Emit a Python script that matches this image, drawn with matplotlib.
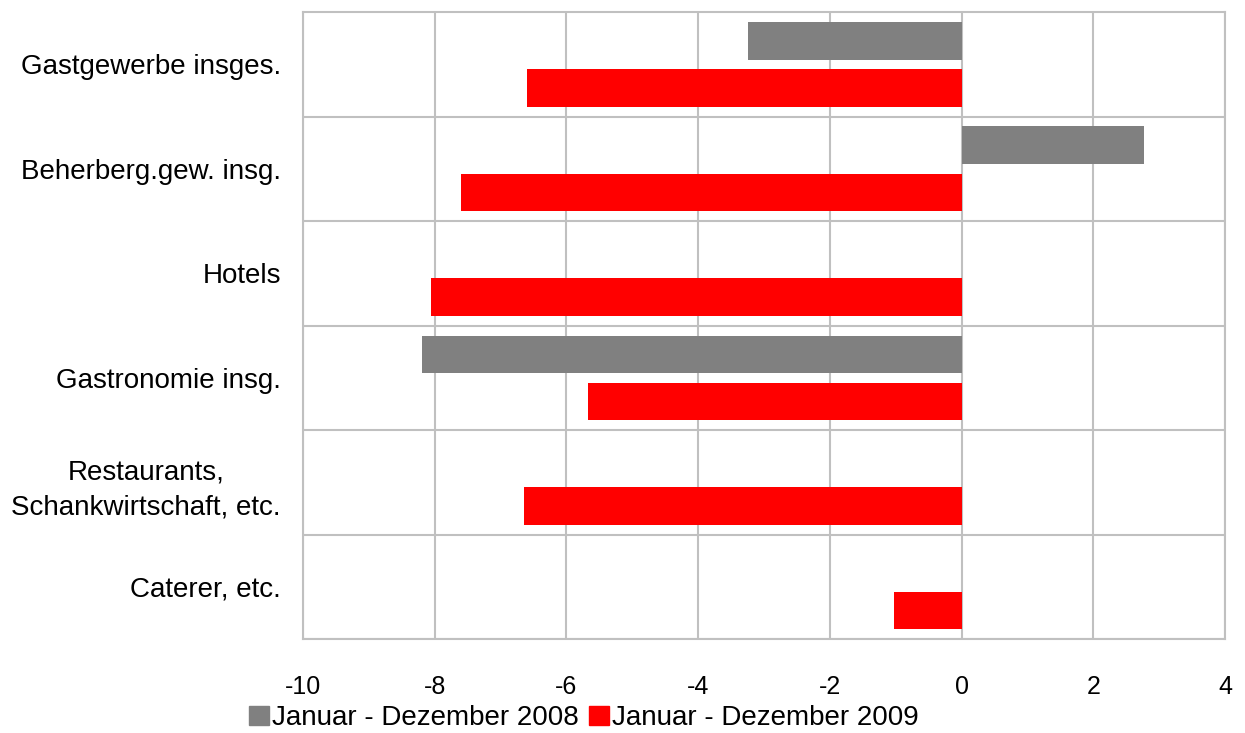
import numpy as np
import matplotlib
matplotlib.use("Agg")
import matplotlib.pyplot as plt
from matplotlib.patches import Patch

categories = ["Gastgewerbe insges.", "Beherberg.gew. insg.", "Hotels",
              "Gastronomie insg.", "Restaurants,\nSchankwirtschaft, etc.", "Caterer, etc."]
values_2008 = [-3.25, 2.77, np.nan, -8.2, np.nan, np.nan]
values_2009 = [-6.6, -7.6, -8.05, -5.67, -6.64, -1.03]
series_names = ["Januar - Dezember 2008", "Januar - Dezember 2009"]
xticks = [-10, -8, -6, -4, -2, 0, 2, 4]

plt.rcParams['font.family'] = ['Liberation Sans', 'DejaVu Sans']

fig = plt.figure(figsize=(12.45, 7.33), dpi=100)
ax = fig.add_axes([0.2434, 0.128, 0.984 - 0.2434, 0.9836 - 0.128])

grid_c = "#c0c0c0"
y = np.arange(len(categories))
h = 0.36
ax.barh(y - 0.225, values_2008, height=h, color="#808080", zorder=3)
ax.barh(y + 0.225, values_2009, height=h, color="#ff0000", zorder=3)

ax.set_xlim(-10, 4)
ax.set_ylim(len(categories) - 0.5, -0.5)
ax.set_xticks(xticks)
ax.set_xticklabels([str(t) for t in xticks], fontsize=18)
ax.set_yticks(y)
ax.set_yticklabels(categories, fontsize=20, ha='right', multialignment='center',
                   linespacing=1.45)
ax.set_yticks(np.arange(len(categories)) + 0.5, minor=True)
ax.tick_params(axis='y', which='both', length=0, pad=16)
ax.tick_params(axis='x', length=0, pad=26)
ax.grid(axis='x', which='major', color=grid_c, linewidth=1.5, zorder=0)
ax.grid(axis='y', which='minor', color=grid_c, linewidth=1.5, zorder=0)
ax.grid(axis='y', which='major', visible=False)
for s in ax.spines.values():
    s.set_color(grid_c)
    s.set_linewidth(1.5)

handles = [Patch(color="#808080"), Patch(color="#ff0000")]
fig.legend(handles, series_names, loc='center', bbox_to_anchor=(0.469, 0.02),
           ncol=2, frameon=False, fontsize=20, handlelength=0.7, handleheight=0.7,
           handletextpad=0.1, columnspacing=0.4, borderpad=0)

fig.savefig("out.png", dpi=100)
